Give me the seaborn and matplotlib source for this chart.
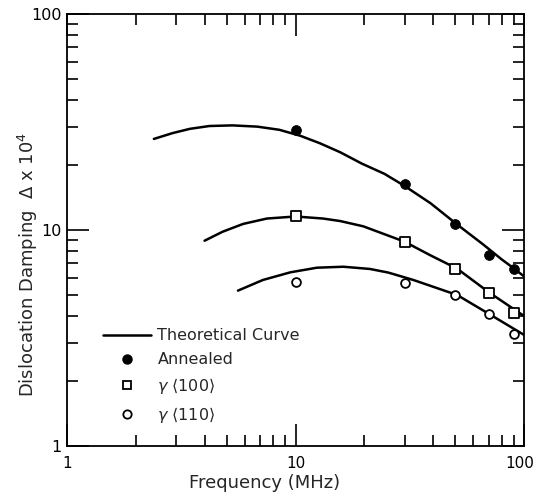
import matplotlib
matplotlib.use("Agg")
import matplotlib.pyplot as plt
from matplotlib.lines import Line2D
from matplotlib.ticker import LogLocator, NullFormatter, FixedLocator, FixedFormatter
import matplotlib.transforms as mtransforms
import seaborn as sns
import pandas as pd

# ---- data ----
freq = [10, 30, 50, 70, 90]
annealed = [29.0, 16.3, 10.7, 7.64, 6.6]
gamma100 = [11.6, 8.83, 6.62, 5.13, 4.11]
gamma110 = [5.77, 5.66, 5.0, 4.08, 3.30]

top_f = [2.4, 2.9, 3.45, 4.2, 5.3, 6.8, 8.5, 10.5, 12.8, 15.7, 19.5, 24.5, 30, 39, 51, 66, 80, 91, 100]
top_y = [26.4, 28.1, 29.4, 30.3, 30.5, 30.1, 29.1, 27.3, 25.2, 22.9, 20.3, 18.2, 16.0, 13.3, 10.6, 8.6, 7.3, 6.6, 6.1]
mid_f = [4.0, 4.8, 5.9, 7.5, 10, 13.2, 15.7, 19.8, 30, 38.8, 51, 70.5, 100]
mid_y = [8.92, 9.82, 10.67, 11.3, 11.55, 11.3, 11.0, 10.4, 8.83, 7.65, 6.62, 5.13, 4.0]
bot_f = [5.6, 7.2, 9.5, 12.4, 16.2, 21.2, 25.5, 32.8, 51, 70.5, 100]
bot_y = [5.24, 5.87, 6.37, 6.69, 6.76, 6.6, 6.35, 5.87, 5.0, 4.08, 3.27]

tick_vals = [1, 10, 100]
tick_labels = ["1", "10", "100"]
legend_labels = ["Theoretical Curve", "Annealed",
                 r"$\gamma$ $\langle$100$\rangle$", r"$\gamma$ $\langle$110$\rangle$"]

sns.set_style("ticks")
plt.rcParams["font.family"] = ["DejaVu Sans"]
plt.rcParams["mathtext.fontset"] = "dejavusans"

fig = plt.figure(figsize=(5.35, 4.93), dpi=100)
ax = fig.add_axes([67/535, 1 - 446/493, (524-67)/535, (446-14)/493])

curves = pd.concat([
    pd.DataFrame({"f": top_f, "d": top_y, "c": "top"}),
    pd.DataFrame({"f": mid_f, "d": mid_y, "c": "mid"}),
    pd.DataFrame({"f": bot_f, "d": bot_y, "c": "bot"}),
])
sns.lineplot(data=curves, x="f", y="d", units="c", estimator=None, sort=False,
             color="black", lw=1.8, ax=ax, legend=False)

pts = pd.DataFrame({"f": freq, "a": annealed, "g1": gamma100, "g2": gamma110})
sns.scatterplot(data=pts, x="f", y="a", marker="o", s=50, color="black",
                edgecolor="black", ax=ax, legend=False, zorder=3)
sns.scatterplot(data=pts, x="f", y="g1", marker="s", s=45, facecolor="white",
                edgecolor="black", linewidth=1.3, ax=ax, legend=False, zorder=3)
sns.scatterplot(data=pts, x="f", y="g2", marker="o", s=40, facecolor="white",
                edgecolor="black", linewidth=1.3, ax=ax, legend=False, zorder=3)

ax.set_xscale("log")
ax.set_yscale("log")
ax.set_xlim(1, 100)
ax.set_ylim(1, 100)

for axis in (ax.xaxis, ax.yaxis):
    axis.set_major_locator(FixedLocator(tick_vals))
    axis.set_major_formatter(FixedFormatter(tick_labels))
    axis.set_minor_locator(LogLocator(base=10, subs=range(2, 10)))
    axis.set_minor_formatter(NullFormatter())

ax.tick_params(which="both", direction="in", top=True, right=True, width=1.2, colors="black")
ax.tick_params(which="major", length=16, labelsize=11.5)
ax.tick_params(axis="x", which="major", pad=7, labelsize=11)
ax.tick_params(axis="y", which="major", pad=4)
ax.tick_params(which="minor", length=8)
for s in ax.spines.values():
    s.set_linewidth(1.3)
    s.set_color("black")

ax.set_xlabel("Frequency (MHz)", fontsize=13)
ax.set_ylabel(r"Dislocation Damping  $\Delta$ x 10$^4$", fontsize=13)
ax.xaxis.set_label_coords(0.433, -0.065)
ax.yaxis.set_label_coords(-0.058, 0.42)

# nudge the last x tick label so it stays inside the figure
xlabels = ax.get_xticklabels()
xlabels[-1].set_transform(xlabels[-1].get_transform() +
                          mtransforms.ScaledTranslation(-4/100, 0, fig.dpi_scale_trans))

handles = [
    Line2D([], [], color="black", lw=1.8),
    Line2D([], [], ls="none", marker="o", ms=6.5, mfc="black", mec="black"),
    Line2D([], [], ls="none", marker="s", ms=6, mfc="white", mec="black", mew=1.3),
    Line2D([], [], ls="none", marker="o", ms=6, mfc="white", mec="black", mew=1.3),
]
ax.legend(handles, legend_labels, loc="upper left", bbox_to_anchor=(0.079, 0.272),
          frameon=False, fontsize=11.5, handlelength=3.0, handletextpad=0.4,
          labelspacing=0.55, borderpad=0, borderaxespad=0)

fig.savefig("out.png", dpi=100)
